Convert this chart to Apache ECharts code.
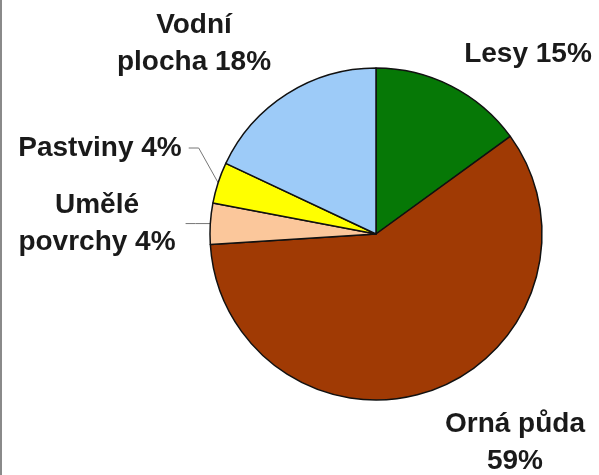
<!DOCTYPE html>
<html>
<head>
<meta charset="utf-8">
<script src="https://cdn.jsdelivr.net/npm/echarts@6/dist/echarts.min.js"></script>
<style>
html,body{margin:0;padding:0;background:#fff;}
#c{width:599px;height:475px;}
</style>
</head>
<body>
<div id="c"></div>
<script>
// Data
const categories = ['Lesy', 'Orná půda', 'Umělé povrchy', 'Pastviny', 'Vodní plocha'];
const values = [15, 59, 4, 4, 18];
// label text pieces: name part and separator before the percentage
const labelNames = ['Lesy', 'Orná půda', 'Umělé\npovrchy', 'Pastviny', 'Vodní\nplocha'];
const labelSeps = [' ', '\n', ' ', ' ', ' '];
const colors = ['#067806', '#a03a04', '#fbc79b', '#ffff00', '#9dcbf8'];
const showLeader = [false, false, true, true, false];
// label centres (styling / layout)
const labelPos = [[528, 54], [515, 443], [97, 224], [100, 148], [194, 44]];

const chart = echarts.init(document.getElementById('c'), null, {renderer: 'canvas'});
const data = categories.map((n, i) => ({
  name: n,
  value: values[i],
  itemStyle: {color: colors[i]},
  labelLine: {show: showLeader[i]}
}));

chart.setOption({
  animation: false,
  backgroundColor: '#ffffff',
  graphic: [{
    type: 'rect',
    shape: {x: 0, y: 0, width: 2, height: 475},
    style: {fill: '#8a8a8a'}
  }],
  series: [{
    type: 'pie',
    center: [376, 234],
    radius: 166,
    startAngle: 90,
    clockwise: true,
    avoidLabelOverlap: false,
    itemStyle: {borderColor: '#111', borderWidth: 1.5},
    label: {
      show: true,
      position: 'outside',
      color: '#1a1a1a',
      fontFamily: 'Liberation Sans, Arial, sans-serif',
      fontWeight: 'bold',
      fontSize: 28,
      lineHeight: 37,
      align: 'center',
      formatter: p => labelNames[p.dataIndex] + labelSeps[p.dataIndex] + p.value + '%'
    },
    labelLine: {
      show: true,
      lineStyle: {color: '#777', width: 1}
    },
    labelLayout: function (params) {
      const i = params.dataIndex;
      const w = params.labelRect.width, h = params.labelRect.height;
      const cx = labelPos[i][0], cy = labelPos[i][1];
      const res = {x: cx, y: cy, align: 'center', verticalAlign: 'middle'};
      if (showLeader[i] && params.labelLinePoints) {
        const edge = params.labelLinePoints[0];
        const right = cx + w / 2;
        if (i === 3) {
          res.labelLinePoints = [edge, [right + 17, cy], [right + 7, cy]];
        } else {
          res.labelLinePoints = [edge, [right + 20, edge[1]], [right + 10, edge[1]]];
        }
      }
      return res;
    },
    data: data
  }]
});
</script>
</body>
</html>
